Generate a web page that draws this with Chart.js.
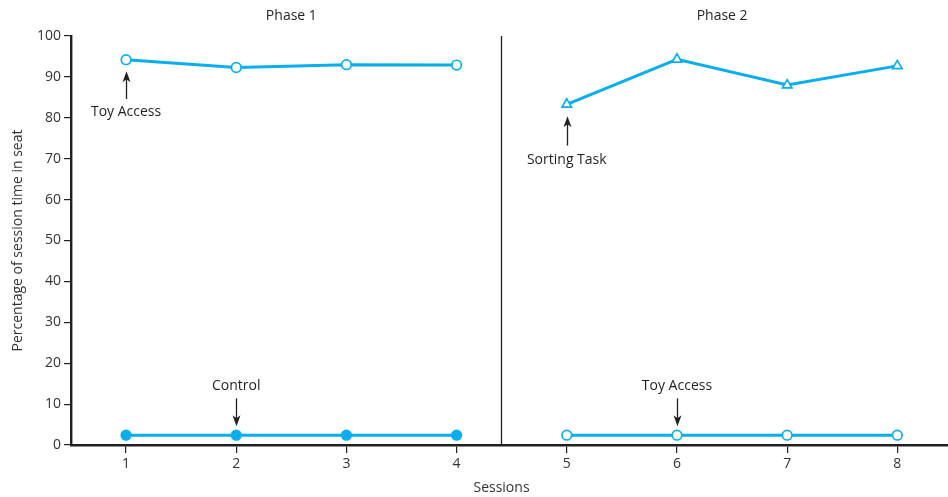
<!DOCTYPE html>
<html>
<head>
<meta charset="utf-8">
<script src="https://cdn.jsdelivr.net/npm/chart.js@4.4.1/dist/chart.umd.min.js"></script>
<style>
  html, body { margin: 0; padding: 0; background: #fff; }
  #wrap { width: 948px; height: 497px; position: relative; }
</style>
</head>
<body>
<div id="wrap"><canvas id="seatChart"></canvas></div>
<script>
const phase1Sessions = [1, 2, 3, 4];
const phase2Sessions = [5, 6, 7, 8];
const toyAccessPhase1 = [94.2, 92.3, 93.0, 92.9];
const controlPhase1 = [2.4, 2.4, 2.4, 2.4];
const sortingPhase2 = [83.3, 94.3, 88.0, 92.7];
const toyAccessPhase2 = [2.4, 2.4, 2.4, 2.4];
const sessionTicks = [1, 2, 3, 4, 5, 6, 7, 8];
const phaseLabels = ["Phase 1", "Phase 2"];

const BLUE = "#0aaeec";
const INK = "#231f20";
const FONT = "'Open Sans', sans-serif";

function toPoints(xs, ys) {
    return xs.map((x, i) => ({ x: x, y: ys[i] }));
}

// arrows + labels, in data units
const notes = [
    { text: "Toy Access", x: 1, textY: 81.3, from: 84.6, to: 91.4 },
    { text: "Sorting Task", x: 5, textY: 69.8, from: 73.2, to: 80.4 },
    { text: "Control", x: 2, textY: 14.3, from: 11.4, to: 4.6 },
    { text: "Toy Access", x: 6, textY: 14.3, from: 11.4, to: 4.6 }
];

const decorations = {
    id: "decorations",
    afterDraw(chart) {
        const ctx = chart.ctx;
        const xs = chart.scales.x;
        const ys = chart.scales.y;
        const area = chart.chartArea;
        ctx.save();

        // phase divider
        const dx = Math.round(xs.getPixelForValue(4.4)) + 0.5;
        ctx.strokeStyle = INK;
        ctx.lineWidth = 1.3;
        ctx.beginPath();
        ctx.moveTo(dx, area.top);
        ctx.lineTo(dx, area.bottom);
        ctx.stroke();

        ctx.fillStyle = INK;
        ctx.font = "14px " + FONT;
        ctx.textAlign = "center";
        ctx.textBaseline = "middle";
        ctx.fillText(phaseLabels[0], xs.getPixelForValue(2.5), 16);
        ctx.fillText(phaseLabels[1], xs.getPixelForValue(6.41), 16);

        // x axis title, centred under the divider like the original
        ctx.fillStyle = "#333";
        ctx.fillText("Sessions", dx, 488);

        notes.forEach(n => {
            const px = Math.round(xs.getPixelForValue(n.x)) + 0.5;
            const y0 = ys.getPixelForValue(n.from);
            const y1 = ys.getPixelForValue(n.to);
            ctx.fillStyle = INK;
            ctx.fillText(n.text, xs.getPixelForValue(n.x), ys.getPixelForValue(n.textY));
            ctx.strokeStyle = INK;
            ctx.lineWidth = 1.3;
            const dir = y1 < y0 ? 1 : -1;
            ctx.beginPath();
            ctx.moveTo(px, y0);
            ctx.lineTo(px, y1 + dir * 6);
            ctx.stroke();
            ctx.beginPath();
            ctx.moveTo(px, y1);
            ctx.lineTo(px - 4, y1 + dir * 11);
            ctx.lineTo(px, y1 + dir * 8);
            ctx.lineTo(px + 4, y1 + dir * 11);
            ctx.closePath();
            ctx.fill();
        });
        ctx.restore();
    }
};

function lineSet(data, style, filled) {
    return {
        data: data,
        borderColor: BLUE,
        borderWidth: 3,
        pointStyle: style,
        pointRadius: style === "triangle" ? 5.5 : 4.8,
        pointBorderWidth: 1.7,
        pointBorderColor: BLUE,
        pointBackgroundColor: filled ? BLUE : "#fff",
        fill: false,
        tension: 0
    };
}

function initializeChart() {
    const ctx = document.getElementById("seatChart").getContext("2d");
    new Chart(ctx, {
        type: "line",
        data: {
            datasets: [
                lineSet(toPoints(phase1Sessions, toyAccessPhase1), "circle", false),
                lineSet(toPoints(phase1Sessions, controlPhase1), "circle", true),
                lineSet(toPoints(phase2Sessions, sortingPhase2), "triangle", false),
                lineSet(toPoints(phase2Sessions, toyAccessPhase2), "circle", false)
            ]
        },
        options: {
            responsive: true,
            maintainAspectRatio: false,
            animation: false,
            layout: { autoPadding: false, padding: { top: 36, right: 0, left: 0, bottom: 0 } },
            plugins: { legend: { display: false }, tooltip: { enabled: false } },
            scales: {
                x: {
                    type: "linear",
                    min: 0.5,
                    max: 8.46,
                    afterBuildTicks: axis => { axis.ticks = sessionTicks.map(v => ({ value: v })); },
                    afterFit: axis => {
                        axis.height = 52;
                        axis.paddingLeft = 0;
                        axis.paddingRight = 0;
                    },
                    border: { display: true, color: INK, width: 2.4 },
                    grid: { drawOnChartArea: false, drawTicks: true, tickLength: 8, color: INK, lineWidth: 1.2 },
                    ticks: { color: "#333", font: { family: FONT, size: 14 }, padding: 3 }
                },
                y: {
                    min: 0,
                    max: 100,
                    afterFit: axis => { axis.width = 71; },
                    border: { display: true, color: INK, width: 2.4 },
                    grid: { drawOnChartArea: false, drawTicks: true, tickLength: 7, color: INK, lineWidth: 1.2 },
                    ticks: { stepSize: 10, color: "#333", font: { family: FONT, size: 14 }, padding: 3 },
                    title: { display: true, text: "Percentage of session time in seat", color: "#333", font: { family: FONT, size: 14 }, padding: { top: 10, bottom: 4 } }
                }
            }
        },
        plugins: [decorations]
    });
}

window.onload = initializeChart;
</script>
</body>
</html>
